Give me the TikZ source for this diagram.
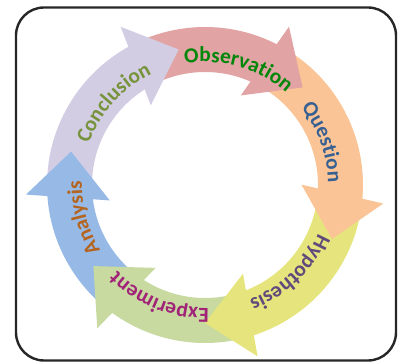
\documentclass[tikz,border=0pt]{standalone}
\usepackage{fontspec}
\setmainfont{Carlito}
\usetikzlibrary{calc,decorations.text}

\definecolor{obsband}{RGB}{225,163,163}
\definecolor{queband}{RGB}{250,196,150}
\definecolor{hypband}{RGB}{230,229,125}
\definecolor{expband}{RGB}{200,218,160}
\definecolor{anaband}{RGB}{150,185,230}
\definecolor{conband}{RGB}{211,205,228}
\definecolor{obstext}{RGB}{0,135,10}
\definecolor{quetext}{RGB}{55,96,146}
\definecolor{hyptext}{RGB}{96,74,123}
\definecolor{exptext}{RGB}{160,35,120}
\definecolor{anatext}{RGB}{180,100,30}
\definecolor{context}{RGB}{119,147,60}

\begin{document}
\begin{tikzpicture}[x=0.75pt,y=0.75pt,
    frame/.style={draw=black!85,line width=1.8pt,rounded corners=21pt},
    cyctext/.style={decorate,decoration={text along path,text align=center,text={#1}}}]
  \useasboundingbox (-205,-178) rectangle (199,185);
  \draw[frame] (-189,-175.5) rectangle (191,177.5);

  % arrow tips
  \coordinate (obs) at (45:138);
  \coordinate (que) at (-23:138);
  \coordinate (hyp) at (-90:138);
  \coordinate (exp) at (-144:138);
  \coordinate (ana) at (166:138);
  \coordinate (con) at (101:138);

  % curved bodies, each one starting under the head before it
  \fill[obsband] (115:158) arc[start angle=115,end angle=60,radius=158] -- (60:113) arc[start angle=60,end angle=115,radius=113] -- cycle;
  \fill[queband] (59:158) arc[start angle=59,end angle=-8,radius=158] -- (-8:113) arc[start angle=-8,end angle=59,radius=113] -- cycle;
  \fill[hypband] (-9:158) arc[start angle=-9,end angle=-75,radius=158] -- (-75:113) arc[start angle=-75,end angle=-9,radius=113] -- cycle;
  \fill[expband] (-76:158) arc[start angle=-76,end angle=-129,radius=158] -- (-129:113) arc[start angle=-129,end angle=-76,radius=113] -- cycle;
  \fill[anaband] (-130:158) arc[start angle=-130,end angle=-179,radius=158] -- (-179:113) arc[start angle=-179,end angle=-130,radius=113] -- cycle;
  \fill[conband] (180:158) arc[start angle=180,end angle=116,radius=158] -- (116:113) arc[start angle=116,end angle=180,radius=113] -- cycle;

  % heads on top
  \fill[obsband] (obs) -- ($(obs)+(145:46)+(55:42)$) -- ($(obs)+(145:46)+(235:42)$) -- cycle;
  \fill[queband] (que) -- ($(que)+(77:46)+(-13:42)$) -- ($(que)+(77:46)+(167:42)$) -- cycle;
  \fill[hypband] (hyp) -- ($(hyp)+(10:46)+(-80:42)$) -- ($(hyp)+(10:46)+(100:42)$) -- cycle;
  \fill[expband] (exp) -- ($(exp)+(-44:46)+(-134:42)$) -- ($(exp)+(-44:46)+(46:42)$) -- cycle;
  \fill[anaband] (ana) -- ($(ana)+(266:46)+(176:42)$) -- ($(ana)+(266:46)+(356:42)$) -- cycle;
  \fill[conband] (con) -- ($(con)+(201:46)+(111:42)$) -- ($(con)+(201:46)+(291:42)$) -- cycle;

  % labels
  \path[cyctext={|\fontsize{16}{19}\bfseries\color{obstext}|Observation}] (119:123) arc[start angle=119,end angle=29,radius=123];
  \path[cyctext={|\fontsize{16}{19}\bfseries\color{quetext}|Question}] (65:123) arc[start angle=65,end angle=-25,radius=123];
  \path[cyctext={|\fontsize{16}{19}\bfseries\color{hyptext}|Hypothesis}] (-1:123) arc[start angle=-1,end angle=-91,radius=123];
  \path[cyctext={|\fontsize{16}{19}\bfseries\color{exptext}|Experiment}] (-67:123) arc[start angle=-67,end angle=-157,radius=123];
  \path[cyctext={|\fontsize{16}{19}\bfseries\color{anatext}|Analysis}] (-120:123) arc[start angle=-120,end angle=-210,radius=123];
  \path[cyctext={|\fontsize{16}{19}\bfseries\color{context}|Conclusion}] (183:123) arc[start angle=183,end angle=93,radius=123];
\end{tikzpicture}
\end{document}
